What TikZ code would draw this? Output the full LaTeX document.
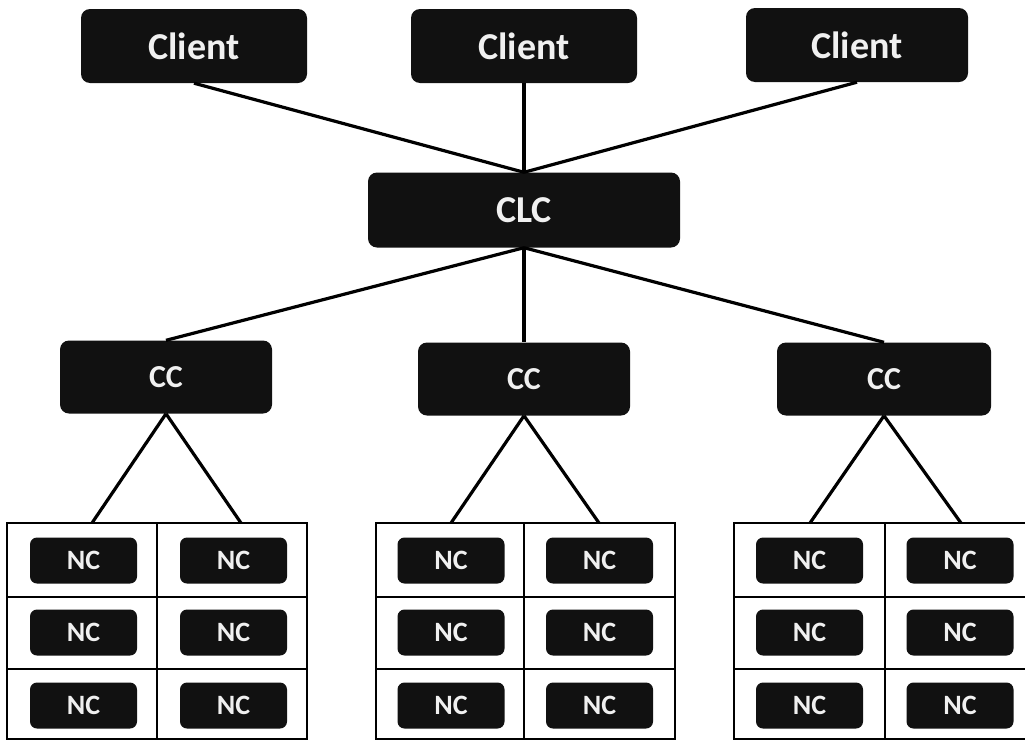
\documentclass[tikz,border=0pt]{standalone}
\usepackage{fontspec}
\setmainfont{Carlito}
\definecolor{boxc}{HTML}{111111}
\definecolor{txtc}{HTML}{F0F0F0}
\begin{document}
\begin{tikzpicture}[x=1pt,y=-1pt,
  darkbox/.style={fill=boxc, draw=none, rounded corners=9pt, text=txtc, inner sep=0pt},
  clientbox/.style={darkbox, minimum width=226pt, minimum height=74pt, font=\bfseries\fontsize{38}{40}\selectfont},
  clcbox/.style={darkbox, minimum width=312pt, minimum height=75pt, font=\bfseries\fontsize{38}{40}\selectfont},
  ccbox/.style={darkbox, minimum width=212pt, minimum height=73pt, font=\bfseries\fontsize{32}{34}\selectfont},
  ncbox/.style={darkbox, rounded corners=7pt, minimum width=107pt, minimum height=46pt, font=\bfseries\fontsize{28}{30}\selectfont},
  link/.style={line width=3.2pt, black},
  gridline/.style={line width=2pt, black}]
\useasboundingbox (0,0) rectangle (1025,739);
\clip (0,0) rectangle (1025,739);

% top level
\node[clientbox] (cl1) at (194,46) {Client};
\node[clientbox] (cl2) at (524,46) {Client};
\node[clientbox, minimum width=222pt] (cl3) at (857,45) {Client};
\node[clcbox] (clc) at (524,210) {CLC};

% cluster controllers
\node[ccbox] (cc1) at (166,377) {CC};
\node[ccbox] (cc2) at (524,379) {CC};
\node[ccbox, minimum width=214pt] (cc3) at (884,379) {CC};

% grids
\foreach \xl/\xm/\xr in {7/157/307, 376/524/675, 734/885/1036}{
  \draw[gridline] (\xl,523) rectangle (\xr,739);
  \draw[gridline] (\xm,523) -- (\xm,739);
  \draw[gridline] (\xl,597) -- (\xr,597);
  \draw[gridline] (\xl,669) -- (\xr,669);
}

% node controllers
\foreach \g/\ca/\cb in {1/83.5/233.5, 2/451/599.5, 3/809.5/960}{
  \foreach \r/\y in {1/560.5, 2/632.5, 3/705.5}{
    \node[ncbox] (nc\g a\r) at (\ca,\y) {NC};
    \node[ncbox] (nc\g b\r) at (\cb,\y) {NC};
  }
}

% grid attachment points
\coordinate (g1a) at (92,523);
\coordinate (g1b) at (241,523);
\coordinate (g2a) at (451,523);
\coordinate (g2b) at (599,523);
\coordinate (g3a) at (810,523);
\coordinate (g3b) at (961,523);

% connectors
\draw[link] (cl1.south) -- (clc.north);
\draw[link] (cl2.south) -- (clc.north);
\draw[link] (cl3.south) -- (clc.north);
\draw[link] (clc.south) -- (cc1.north);
\draw[link] (clc.south) -- (cc2.north);
\draw[link] (clc.south) -- (cc3.north);
\draw[link] (cc1.south) -- (g1a);
\draw[link] (cc1.south) -- (g1b);
\draw[link] (cc2.south) -- (g2a);
\draw[link] (cc2.south) -- (g2b);
\draw[link] (cc3.south) -- (g3a);
\draw[link] (cc3.south) -- (g3b);
\end{tikzpicture}
\end{document}
